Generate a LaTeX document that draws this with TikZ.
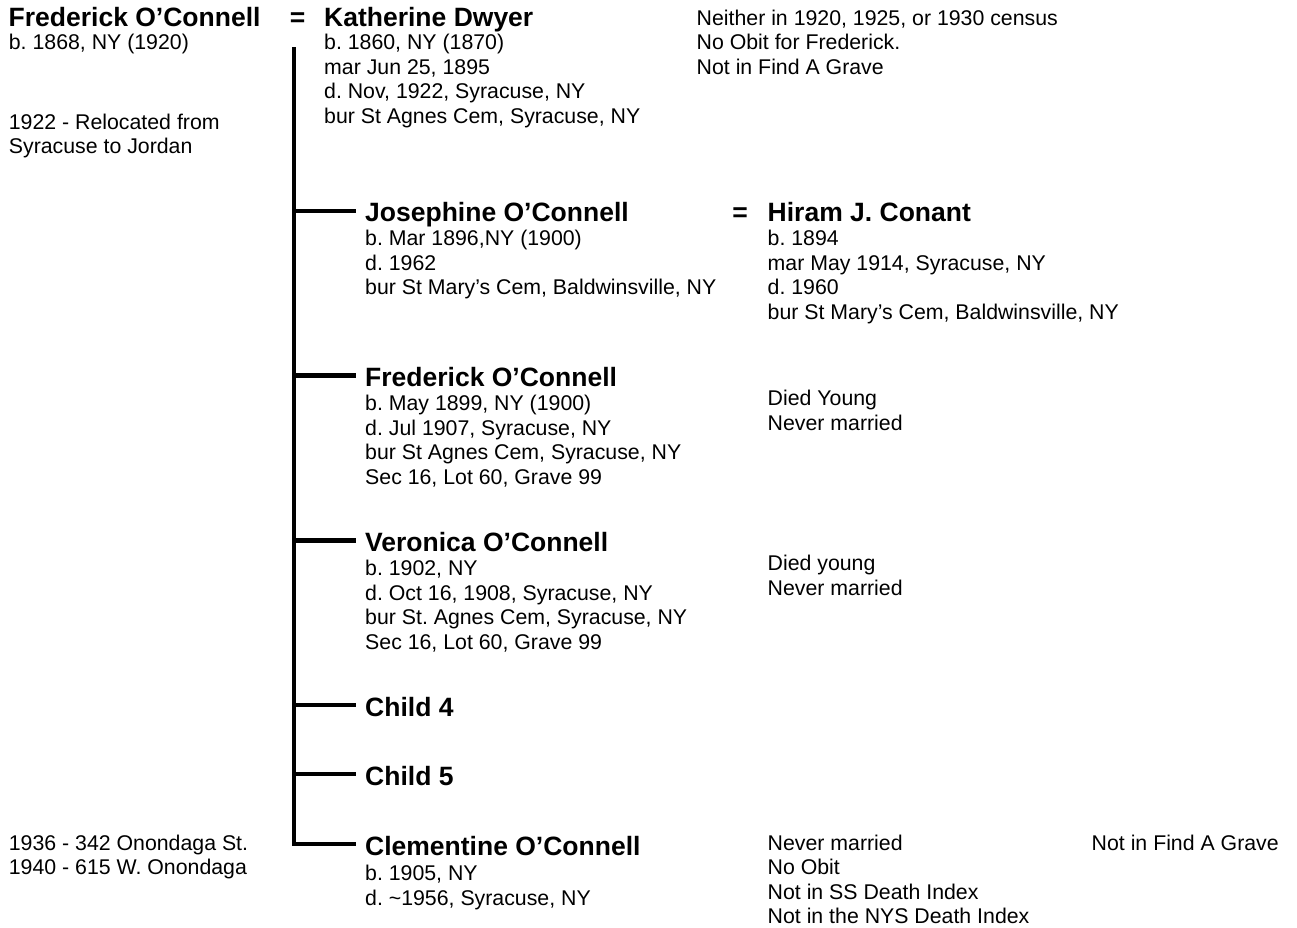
\documentclass[tikz,border=0pt]{standalone}
\usepackage{fontspec}
\setmainfont{Liberation Sans}
\frenchspacing
\usetikzlibrary{positioning}

\tikzset{
    who/.style={font=\fontsize{26.5}{30}\selectfont\bfseries, inner sep=0pt, anchor=base west},
    kid/.style={who, inner xsep=9pt, text height=22pt, text depth=0pt},
    info/.style={font=\fontsize{21.3}{24.5}\selectfont, inner sep=0pt, align=left, anchor=base west},
    line/.style={line width=4.5pt}
}
% info nodes sit on the baseline of their last line
\def\ls{24.5}

\begin{document}
\begin{tikzpicture}[x=1pt,y=-1pt]
            \useasboundingbox (0,0) rectangle (1297,927);
            \node[who] (fa) at (8.5,26.7) {Frederick O’Connell};
            \node[who,anchor=base] (eq1) at (297.5,26.7) {=};
            \node[who] (mo) at (324,26.7) {Katherine Dwyer};
            \node[info] (fa-i) at (8.7,49.5) {b. 1868, NY (1920)};
            \node[info] (fa-m) at (8.7,129.2+\ls) {1922 - Relocated from\\Syracuse to Jordan};
            \node[info] (mo-i) at (324,49.5+3*\ls) {b. 1860, NY (1870)\\mar Jun 25, 1895\\d. Nov, 1922, Syracuse, NY\\bur St Agnes Cem, Syracuse, NY};
            \node[info] (fa-n) at (696.5,25+2*\ls) {Neither in 1920, 1925, or 1930 census\\No Obit for Frederick.\\Not in Find A Grave};

            \node[kid] (jo) at (356,221.8) {Josephine O’Connell};
            \node[info] (jo-i) at (365,245.7+2*\ls) {b. Mar 1896,NY (1900)\\d. 1962\\bur St Mary’s Cem, Baldwinsville, NY};
            \node[who,anchor=base] (eq2) at (740,221.8) {=};
            \node[who] (hi) at (767.5,221.8) {Hiram J. Conant};
            \node[info] (hi-i) at (767.5,245.7+3*\ls) {b. 1894\\mar May 1914, Syracuse, NY\\d. 1960\\bur St Mary’s Cem, Baldwinsville, NY};

            \node[kid] (fr) at (356,386.5) {Frederick O’Connell};
            \node[info] (fr-i) at (365,410.5+3*\ls) {b. May 1899, NY (1900)\\d. Jul 1907, Syracuse, NY\\bur St Agnes Cem, Syracuse, NY\\Sec 16, Lot 60, Grave 99};
            \node[info] (fr-n) at (767.5,405.5+\ls) {Died Young\\Never married};

            \node[kid] (ve) at (356,551.5) {Veronica O’Connell};
            \node[info] (ve-i) at (365,575.5+3*\ls) {b. 1902, NY\\d. Oct 16, 1908, Syracuse, NY\\bur St. Agnes Cem, Syracuse, NY\\Sec 16, Lot 60, Grave 99};
            \node[info] (ve-n) at (767.5,570.5+\ls) {Died young\\Never married};

            \node[kid] (c4) at (356,716) {Child 4};
            \node[kid] (c5) at (356,785) {Child 5};

            \node[kid] (cl) at (356,855) {Clementine O’Connell};
            \node[info] (cl-i) at (365,880.5+\ls) {b. 1905, NY\\d. \textasciitilde1956, Syracuse, NY};
            \node[info] (cl-n) at (767.5,850+3*\ls) {Never married\\No Obit\\Not in SS Death Index\\Not in the NYS Death Index};
            \node[info] (cl-g) at (1091.5,850) {Not in Find A Grave};
            \node[info] (cl-a) at (8.7,850+\ls) {1936 - 342 Onondaga St.\\1940 - 615 W. Onondaga};

            \coordinate (trunk) at (294.2,47);
            \draw[line] (trunk) |- (cl.west);
            \foreach \k in {jo,fr,ve,c4,c5}
                \draw[line] (trunk |- \k.west) -- (\k.west);
\end{tikzpicture}
\end{document}
